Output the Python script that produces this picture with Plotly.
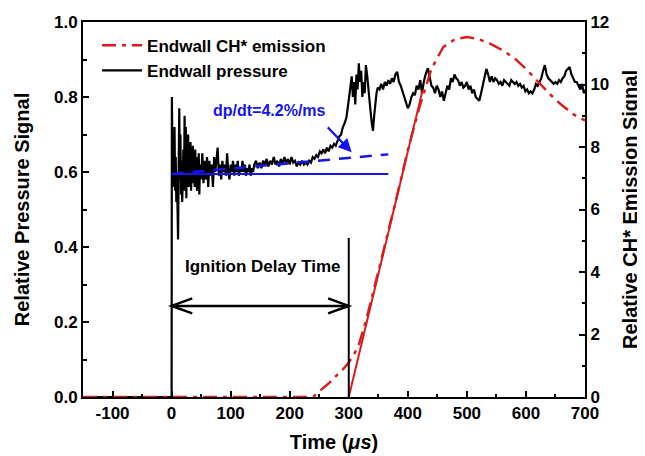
import plotly.graph_objects as go

# ---------------- data ----------------
# Endwall pressure (relative), time in microseconds
p_time = [-150, -1, 0, 0.5, 2, 3, 4, 5, 6, 7, 8, 9, 10, 11, 12, 13, 14, 15, 16, 17, 18, 19,
          20, 21, 22, 23, 24, 25, 26, 27, 28, 29, 30, 31, 32, 33, 34, 35, 36, 37, 38, 39,
          40, 41, 42, 43, 44, 45, 46, 47, 48, 50, 52, 54, 56, 58, 60, 62, 64, 66, 68, 70,
          72, 74, 76, 78, 80, 82, 84, 86, 88, 90, 92, 94, 96, 98, 100, 102, 104, 106, 108,
          110, 112, 114, 116, 118, 120, 122, 124, 126, 128, 130, 132, 134, 136, 138, 140,
          143, 146, 149, 152, 155, 158, 161, 164, 167, 170, 173, 176, 179, 182, 185, 188,
          191, 194, 197, 200, 203, 206, 209, 212, 215, 218, 221, 224, 227, 230, 233, 236,
          239, 242, 245, 248, 251, 254, 257, 260, 263, 266, 269, 272, 275, 278, 281, 284,
          287, 290, 293, 296, 299, 302, 305, 307, 309, 311, 313, 315, 317, 319, 321, 323,
          325, 327, 329, 331, 333, 335, 337, 339, 341, 343, 345, 347, 349, 352, 355, 358,
          361, 364, 367, 370, 373, 376, 379, 382, 385, 388, 391, 394, 397, 400, 403, 406,
          409, 412, 415, 418, 421, 424, 427, 430, 434, 437, 440, 443, 446, 449, 452, 455,
          458, 461, 464, 467, 470, 473, 476, 479, 482, 485, 488, 491, 494, 497, 500, 503,
          506, 509, 512, 515, 518, 521, 524, 527, 530, 533, 536, 539, 542, 545, 548, 551,
          554, 557, 560, 563, 566, 569, 572, 575, 578, 581, 584, 587, 590, 593, 596, 599,
          602, 605, 608, 611, 614, 617, 620, 623, 626, 629, 632, 635, 638, 641, 644, 647,
          650, 653, 656, 659, 662, 665, 668, 671, 674, 677, 680, 683, 686, 689, 692, 695,
          698, 700]
p_value = [0.0, 0.0, 0.0, 0.80, 0.56, 0.66, 0.58, 0.72, 0.55, 0.64, 0.52, 0.60, 0.47, 0.42,
           0.62, 0.77, 0.58, 0.70, 0.54, 0.63, 0.52, 0.60, 0.66, 0.55, 0.75, 0.58, 0.72, 0.53,
           0.65, 0.57, 0.70, 0.56, 0.66, 0.59, 0.68, 0.55, 0.64, 0.58, 0.67, 0.57, 0.63, 0.56,
           0.66, 0.58, 0.62, 0.55, 0.64, 0.57, 0.65, 0.54, 0.62, 0.58, 0.65, 0.57, 0.63, 0.58,
           0.64, 0.56, 0.63, 0.59, 0.62, 0.56, 0.64, 0.60, 0.63, 0.665, 0.59, 0.62, 0.58, 0.63,
           0.60, 0.62, 0.59, 0.65, 0.60, 0.58, 0.62, 0.60, 0.63, 0.59, 0.62, 0.60, 0.63, 0.59,
           0.61, 0.60, 0.63, 0.60, 0.62, 0.59, 0.61, 0.60, 0.62, 0.59, 0.61, 0.60, 0.62,
           0.63, 0.61, 0.625, 0.61, 0.63, 0.62, 0.635, 0.615, 0.63, 0.62, 0.64, 0.62, 0.63,
           0.615, 0.635, 0.62, 0.64, 0.625, 0.635, 0.62, 0.64, 0.625, 0.63, 0.615, 0.625, 0.62,
           0.63, 0.62, 0.625, 0.62, 0.63, 0.625, 0.64, 0.635, 0.645, 0.64, 0.655, 0.65, 0.66,
           0.65, 0.665, 0.655, 0.67, 0.665, 0.675, 0.67, 0.685, 0.695, 0.70, 0.72, 0.73, 0.745,
           0.78, 0.82, 0.855, 0.80, 0.84, 0.78, 0.86, 0.82, 0.89, 0.84, 0.87, 0.80, 0.84, 0.81,
           0.885, 0.86, 0.82, 0.79, 0.76, 0.73, 0.71, 0.75, 0.79, 0.81, 0.825, 0.82, 0.835,
           0.82, 0.84, 0.83, 0.845, 0.835, 0.85, 0.84, 0.86, 0.867, 0.84, 0.83, 0.815, 0.80,
           0.79, 0.77, 0.78, 0.80, 0.81, 0.805, 0.83, 0.82, 0.845, 0.81, 0.84, 0.86, 0.877,
           0.85, 0.83, 0.825, 0.81, 0.83, 0.82, 0.80, 0.815, 0.79, 0.81, 0.83, 0.82, 0.85,
           0.84, 0.86, 0.85, 0.845, 0.83, 0.84, 0.825, 0.83, 0.84, 0.82, 0.83, 0.81, 0.82,
           0.80, 0.795, 0.79, 0.81, 0.83, 0.85, 0.875, 0.86, 0.84, 0.855, 0.84, 0.85, 0.845,
           0.835, 0.84, 0.83, 0.845, 0.84, 0.835, 0.83, 0.845, 0.84, 0.835, 0.84, 0.83, 0.835,
           0.825, 0.83, 0.815, 0.82, 0.81, 0.815, 0.81, 0.82, 0.835, 0.83, 0.84, 0.85, 0.87,
           0.885, 0.86, 0.85, 0.845, 0.84, 0.835, 0.84, 0.835, 0.845, 0.84, 0.85, 0.855, 0.87,
           0.875, 0.88, 0.86, 0.85, 0.84, 0.84, 0.83, 0.82, 0.835, 0.81, 0.82]

# Endwall CH* emission (relative, right axis)
ch_time = [-150, 240, 245, 255, 267, 280, 290, 300, 310, 318, 330, 340, 350, 365, 380, 400,
           420, 440, 460, 480, 500, 520, 540, 560, 580, 600, 620, 640, 660, 680, 700]
ch_value = [0.0, 0.0, 0.1, 0.25, 0.45, 0.7, 0.88, 1.1, 1.4, 1.73, 2.5, 3.25, 4.0, 5.15, 6.3,
            7.9, 9.3, 10.5, 11.2, 11.45, 11.52, 11.45, 11.3, 11.1, 10.85, 10.5, 10.1, 9.7,
            9.35, 9.05, 8.85]

# linear fit of CH* rise (right axis)
chfit_time = [300, 425]
chfit_value = [0.0, 9.82]

# pressure baseline and pressure-rise fit
fit_time = [0, 367]
base_value = [0.595, 0.595]
slope_value = [0.595, 0.647]

# ignition delay markers
ign_start = 0
ign_end = 300

x_ticks = [-100, 0, 100, 200, 300, 400, 500, 600, 700]
x_tick_text = ["-100", "0", "100", "200", "300", "400", "500", "600", "700"]

FONT = "Liberation Sans, Arial, sans-serif"
RED = "#dc1c1c"
BLUE = "#1414f0"

fig = go.Figure()

fig.add_trace(go.Scatter(x=p_time, y=p_value, mode="lines", name="Endwall pressure",
                         line=dict(color="black", width=2.2), legendrank=2))
fig.add_trace(go.Scatter(x=fit_time, y=base_value, mode="lines", showlegend=False,
                         line=dict(color=BLUE, width=2)))
fig.add_trace(go.Scatter(x=fit_time, y=slope_value, mode="lines", showlegend=False,
                         line=dict(color=BLUE, width=2.5, dash="12px,9px")))
fig.add_trace(go.Scatter(x=chfit_time, y=chfit_value, mode="lines", showlegend=False,
                         line=dict(color=RED, width=2), yaxis="y2"))
fig.add_trace(go.Scatter(x=ch_time, y=ch_value, mode="lines", name="Endwall CH* emission",
                         line=dict(color=RED, width=2.5, dash="14px,6px,4px,6px"),
                         yaxis="y2", legendrank=1))

# ignition delay vertical marker and double arrow
fig.add_shape(type="line", x0=ign_end, x1=ign_end, y0=0, y1=0.424, xref="x", yref="y",
              line=dict(color="black", width=2))
fig.add_shape(type="line", x0=ign_start, x1=ign_end, y0=0.243, y1=0.243, xref="x", yref="y",
              line=dict(color="black", width=2.5))
fig.add_shape(type="path", xref="x", yref="y",
              path=f"M {ign_start+35},{0.243+0.02} L {ign_start},{0.243} L {ign_start+35},{0.243-0.02}",
              line=dict(color="black", width=2.5))
fig.add_shape(type="path", xref="x", yref="y",
              path=f"M {ign_end-35},{0.243+0.02} L {ign_end},{0.243} L {ign_end-35},{0.243-0.02}",
              line=dict(color="black", width=2.5))

fig.add_annotation(x=155, y=0.347, xref="x", yref="y", text="Ignition Delay Time",
                   showarrow=False, font=dict(family=FONT, size=17, color="black", weight="bold"))
fig.add_annotation(x=166, y=0.763, xref="x", yref="y", text="dp/dt=4.2%/ms",
                   showarrow=False, font=dict(family=FONT, size=16, color=BLUE, weight="bold"))
fig.add_annotation(x=305, y=0.653, ax=262, ay=0.723, xref="x", yref="y", axref="x", ayref="y",
                   text="", showarrow=True, arrowhead=2, arrowsize=1.2, arrowwidth=2.2,
                   arrowcolor=BLUE)

axis_common = dict(showline=True, linecolor="black", linewidth=2, ticks="inside",
                   tickcolor="black", tickwidth=2, ticklen=6, showgrid=False, zeroline=False,
                   automargin=False,
                   tickfont=dict(family=FONT, size=17, color="black", weight="bold"))

# the page body adds an 8px offset, so the figure is sized 8px smaller than the window
fig.update_layout(
    width=637, height=448,
    margin=dict(l=75, r=60, t=14, b=59),
    paper_bgcolor="white", plot_bgcolor="white",
    font=dict(family=FONT, color="black"),
    showlegend=True,
    legend=dict(x=0.028, y=0.985, xanchor="left", yanchor="top",
                bgcolor="rgba(0,0,0,0)", font=dict(family=FONT, size=17, weight="bold"),
                itemwidth=40, tracegroupgap=0),
    xaxis=dict(range=[-150, 700], tickvals=x_ticks, ticktext=x_tick_text, mirror=True,
               layer="below traces",
               minor=dict(dtick=50, tick0=0, ticks="inside", ticklen=3.5, tickwidth=2,
                          tickcolor="black"),
               title=dict(text="Time (<i>μs</i>)", standoff=13,
                          font=dict(family=FONT, size=20, weight="bold")),
               **axis_common),
    yaxis=dict(range=[0, 1], dtick=0.2, tickformat=".1f", layer="below traces",
               minor=dict(dtick=0.1, ticks="inside", ticklen=3.5, tickwidth=2,
                          tickcolor="black"),
               title=dict(text="Relative Pressure Signal", standoff=19,
                          font=dict(family=FONT, size=20, weight="bold")),
               **axis_common),
    yaxis2=dict(range=[0, 12], dtick=2, overlaying="y", side="right", layer="below traces",
                minor=dict(dtick=1, ticks="inside", ticklen=3.5, tickwidth=2,
                           tickcolor="black"),
                title=dict(text="Relative CH* Emission Signal", standoff=15,
                           font=dict(family=FONT, size=20, weight="bold")),
                **axis_common),
)

fig.write_html("out.html")
